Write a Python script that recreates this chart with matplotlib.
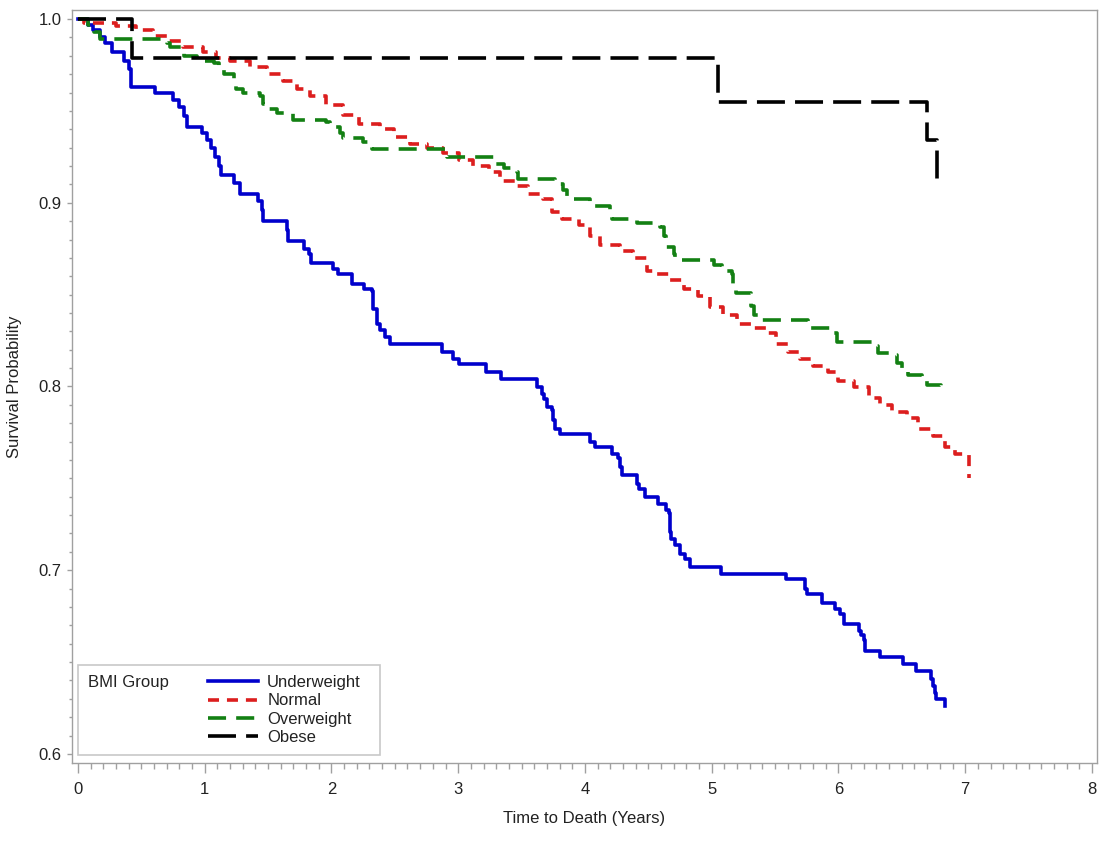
import numpy as np
import matplotlib
matplotlib.use("Agg")
import matplotlib.pyplot as plt
from matplotlib.patches import Rectangle
from matplotlib.ticker import MultipleLocator

plt.rcParams['font.family'] = ['Liberation Sans', 'DejaVu Sans']

# Kaplan-Meier step data (time in years, survival)
under_t = [0.00, 0.08, 0.12, 0.17, 0.21, 0.27, 0.36, 0.40, 0.42, 0.61, 0.75, 0.80, 0.84, 0.86,
           0.98, 1.02, 1.05, 1.08, 1.11, 1.13, 1.23, 1.28, 1.42, 1.45, 1.46, 1.65, 1.66, 1.78,
           1.82, 1.84, 2.01, 2.05, 2.16, 2.26, 2.32, 2.33, 2.36, 2.38, 2.42, 2.46, 2.87, 2.96,
           3.01, 3.22, 3.34, 3.62, 3.66, 3.68, 3.70, 3.74, 3.75, 3.76, 3.80, 4.04, 4.08, 4.21,
           4.26, 4.28, 4.29, 4.41, 4.43, 4.47, 4.58, 4.64, 4.66, 4.67, 4.68, 4.71, 4.75, 4.79,
           4.83, 5.07, 5.59, 5.74, 5.75, 5.87, 5.97, 6.01, 6.04, 6.16, 6.18, 6.20, 6.21, 6.33,
           6.51, 6.61, 6.73, 6.75, 6.76, 6.77, 6.84]
under_s = [1.000, 0.997, 0.994, 0.990, 0.987, 0.982, 0.977, 0.973, 0.963, 0.960, 0.956, 0.952, 0.947, 0.941,
           0.938, 0.934, 0.930, 0.925, 0.920, 0.915, 0.911, 0.905, 0.901, 0.896, 0.890, 0.885, 0.879, 0.875,
           0.872, 0.867, 0.864, 0.861, 0.856, 0.853, 0.852, 0.842, 0.834, 0.831, 0.827, 0.823, 0.819, 0.815,
           0.812, 0.808, 0.804, 0.800, 0.796, 0.793, 0.789, 0.787, 0.782, 0.777, 0.774, 0.770, 0.767, 0.763,
           0.761, 0.756, 0.752, 0.747, 0.744, 0.740, 0.736, 0.733, 0.731, 0.721, 0.717, 0.714, 0.709, 0.706,
           0.702, 0.698, 0.695, 0.690, 0.687, 0.682, 0.679, 0.676, 0.671, 0.667, 0.665, 0.662, 0.656, 0.653,
           0.649, 0.645, 0.641, 0.637, 0.633, 0.630, 0.626]

normal_t = [0.00, 0.05, 0.30, 0.46, 0.59, 0.70, 0.83, 0.99, 1.09, 1.20, 1.36, 1.49, 1.62, 1.73, 1.83,
            1.96, 2.09, 2.22, 2.38, 2.49, 2.62, 2.75, 2.88, 3.01, 3.12, 3.24, 3.33, 3.45, 3.55, 3.67,
            3.74, 3.82, 3.95, 4.04, 4.12, 4.28, 4.38, 4.49, 4.55, 4.67, 4.78, 4.89, 4.99, 5.09, 5.20,
            5.32, 5.43, 5.51, 5.60, 5.70, 5.80, 5.92, 6.00, 6.12, 6.24, 6.33, 6.42, 6.54, 6.63, 6.75,
            6.84, 6.92, 7.03]
normal_s = [1.000, 0.998, 0.996, 0.994, 0.991, 0.988, 0.985, 0.982, 0.979, 0.977, 0.974, 0.970, 0.966, 0.962, 0.958,
            0.953, 0.948, 0.943, 0.940, 0.936, 0.932, 0.930, 0.927, 0.923, 0.920, 0.917, 0.912, 0.909, 0.905, 0.902,
            0.895, 0.891, 0.888, 0.882, 0.877, 0.874, 0.870, 0.863, 0.861, 0.858, 0.853, 0.849, 0.843, 0.839, 0.834,
            0.832, 0.829, 0.823, 0.819, 0.815, 0.811, 0.808, 0.803, 0.800, 0.794, 0.790, 0.786, 0.783, 0.777, 0.773,
            0.767, 0.763, 0.750]

over_t = [0.00, 0.08, 0.13, 0.17, 0.70, 0.73, 0.84, 0.94, 1.07, 1.11, 1.15, 1.23, 1.25, 1.30, 1.44,
          1.46, 1.50, 1.57, 1.70, 1.96, 1.99, 2.07, 2.09, 2.25, 2.32, 2.91, 3.30, 3.36, 3.46, 3.47,
          3.76, 3.83, 3.86, 4.04, 4.20, 4.21, 4.41, 4.59, 4.62, 4.64, 4.70, 4.71, 5.02, 5.08, 5.16,
          5.17, 5.19, 5.31, 5.33, 5.37, 5.76, 5.93, 5.99, 6.27, 6.31, 6.42, 6.46, 6.50, 6.55, 6.66,
          6.70, 6.81, 6.85]
over_s = [1.000, 0.997, 0.993, 0.989, 0.987, 0.985, 0.980, 0.977, 0.976, 0.972, 0.970, 0.965, 0.962, 0.960, 0.958,
          0.954, 0.951, 0.949, 0.945, 0.944, 0.941, 0.938, 0.935, 0.933, 0.929, 0.925, 0.921, 0.919, 0.917, 0.913,
          0.910, 0.907, 0.902, 0.898, 0.894, 0.891, 0.889, 0.887, 0.882, 0.876, 0.872, 0.869, 0.866, 0.863, 0.861,
          0.856, 0.851, 0.844, 0.839, 0.836, 0.832, 0.829, 0.824, 0.822, 0.818, 0.817, 0.813, 0.810, 0.806, 0.803,
          0.801, 0.798, 0.798]

obese_t = [0.00, 0.43, 5.05, 6.70, 6.78]
obese_s = [1.000, 0.979, 0.955, 0.934, 0.909]

groups = ['Underweight', 'Normal', 'Overweight', 'Obese']
colors = ['#0000cc', '#dc1e1e', '#138013', '#000000']

W, H = 1108, 849
fig = plt.figure(figsize=(W / 100, H / 100), dpi=100)
ax = fig.add_axes([72 / W, 1 - 763 / H, (1097 - 72) / W, (763 - 10) / H])

lw = 2.6
ax.step(under_t, under_s, where='post', color=colors[0], lw=lw, label=groups[0])
ax.step(normal_t, normal_s, where='post', color=colors[1], lw=lw, dashes=(3.05, 2.2), label=groups[1])
ax.step(over_t, over_s, where='post', color=colors[2], lw=lw, dashes=(5.0, 2.8), label=groups[2])
ax.step(obese_t, obese_s, where='post', color=colors[3], lw=lw, dashes=(7.75, 2.8), label=groups[3])

ax.set_xlim(-0.047, 8.04)
ax.set_ylim(0.5951, 1.0049)
ax.xaxis.set_major_locator(MultipleLocator(1))
ax.xaxis.set_minor_locator(MultipleLocator(0.1))
ax.yaxis.set_major_locator(MultipleLocator(0.1))
ax.yaxis.set_minor_locator(MultipleLocator(0.01))
ax.set_yticklabels([f'{v:.1f}' for v in ax.get_yticks()])

gray = '#a0a0a0'
for s in ax.spines.values():
    s.set_color(gray)
    s.set_linewidth(1.0)
ax.tick_params(axis='x', which='major', length=7, width=1, color=gray, labelsize=12, pad=7, labelcolor='#222222')
ax.tick_params(axis='x', which='minor', length=4.3, width=1, color=gray)
ax.tick_params(axis='y', which='major', length=3.5, width=1, color=gray, labelsize=12, pad=4, labelcolor='#222222')
ax.tick_params(axis='y', which='minor', length=2.3, width=1, color=gray)

ax.set_xlabel('Time to Death (Years)', fontsize=12, color='#222222', labelpad=10)
ax.set_ylabel('Survival Probability', fontsize=12, color='#222222', labelpad=12)

# legend: title on the left, entries in one column, light frame around all
leg = ax.legend(loc='upper left', bbox_to_anchor=(208 / W, 1 - 675 / H), bbox_transform=fig.transFigure,
                frameon=False, fontsize=12, handlelength=3.0, handletextpad=0.55,
                labelspacing=0.2, borderpad=0, borderaxespad=0)
for t in leg.get_texts():
    t.set_color('#222222')
fig.text(88 / W, 1 - 682 / H, 'BMI Group', fontsize=12, va='center', ha='left', color='#222222')
fig.patches.append(Rectangle((78 / W, 1 - 755 / H), (380 - 78) / W, (755 - 665) / H,
                             transform=fig.transFigure, fill=False, edgecolor='#c8c8c8', lw=1.2))

fig.savefig('out.png', dpi=100)
